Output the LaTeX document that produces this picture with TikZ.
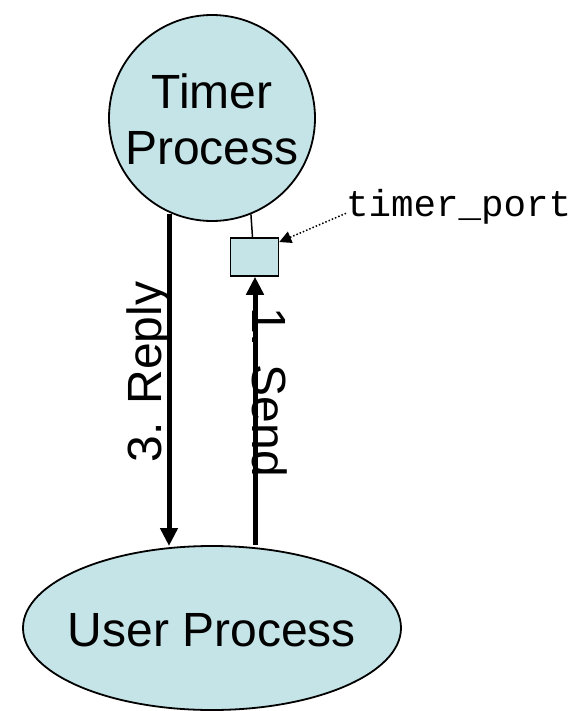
\documentclass[tikz,border=0pt]{standalone}
\usepackage{fontspec}
\setmainfont{Liberation Sans}
\newfontfamily\monofont{Liberation Mono}
\usetikzlibrary{arrows.meta,shapes.geometric}
\definecolor{procfill}{RGB}{196,228,231}
\begin{document}
\begin{tikzpicture}[x=1pt,y=-1pt,
  proc/.style={draw=black,line width=1.8pt,fill=procfill,inner sep=0pt},
  msg/.style={line width=5pt,-{Triangle[length=18pt,width=17pt]}},
  lbl/.style={font=\fontsize{48}{56}\selectfont,inner sep=0pt}]
\useasboundingbox (0,0) rectangle (587,711);
\node[proc,circle,minimum size=206pt] (timer) at (212,118) {};
\node[lbl,align=center] (timertxt) at (212,119) {Timer\\Process};
\node[proc,ellipse,minimum width=378pt,minimum height=164pt] (user) at (212,628) {};
\node[lbl] (usertxt) at (212,630) {User Process};
\node[draw=black,line width=1.5pt,fill=procfill,minimum width=48pt,minimum height=38pt,inner sep=0pt] (port) at (254.5,257) {};
\draw[line width=1.5pt] (port.north) ++(-2pt,0) coordinate (pn) (pn) -- (timer.-68);
\node[font=\monofont\fontsize{37.5}{40}\selectfont,anchor=base west,inner sep=0pt] (porttxt) at (346,217) {timer\_port};
\draw[dotted,line width=1.5pt,-{Triangle[length=12pt,width=12pt]}] (porttxt.west) ++(0,-6pt) coordinate (pt) (pt) -- (port.north east|-0,242) coordinate (ptip);
\coordinate (rtop) at (169,214);
\coordinate (rbot) at (169,546);
\draw[msg] (rtop) -- (rbot);
\coordinate (sbot) at (255,545);
\draw[msg] (sbot) -- (port.south-|sbot);
\node[lbl,rotate=90] (reply) at (149,372) {3. Reply};
\node[lbl,rotate=-90] (send) at (270,392) {1. Send};
\end{tikzpicture}
\end{document}
